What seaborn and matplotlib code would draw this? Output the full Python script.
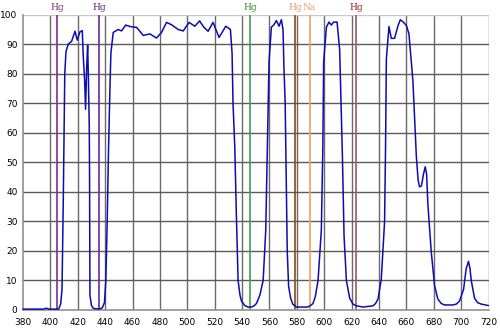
import matplotlib
matplotlib.use("Agg")
import matplotlib.pyplot as plt
import seaborn as sns
import pandas as pd

# Filter transmission curve (wavelength in nm, transmission in %)
wavelength = [
    380, 395, 397, 399, 406, 407.5, 408.5, 409.5, 410.5, 411.4, 413, 415.5, 418,
    419.6, 421.6, 423.3, 424, 425, 425.7, 426.5, 427.2, 427.7, 428.4, 428.6, 428.9,
    430, 431.5, 436, 438, 439.5, 440.5, 441.5, 442.5, 443.5, 444.2, 445.9, 449.5,
    452, 455, 458, 463, 467.8, 472.7, 477.5, 481.2, 484.8, 488.5, 493.3, 497,
    501.3, 505.5, 509, 512, 515.2, 518.8, 523.2, 528.1, 531.5, 532.7, 533.4,
    534.7, 535.8, 537.1, 538.5, 539.6, 542, 544.4, 547, 549, 550.5, 553, 555.4,
    557.3, 558.3, 559.7, 561.4, 563.1, 565.1, 567, 568.7, 569.9, 570.6, 571.5,
    572.4, 573, 574, 575.5, 577, 579.7, 588, 590, 591.8, 593.5, 595.5, 597.9,
    599, 599.6, 601.6, 603.5, 605.2, 606.9, 609.4, 611.3, 613.3, 614.5, 616.2,
    618.6, 621, 623.5, 628.3, 635.6, 637.5, 639.3, 641.7, 644.1, 644.8, 645.4,
    647.3, 649, 651.4, 653.9, 655.6, 657.5, 660, 661.9, 664.8, 667.3, 668.6,
    669.6, 671, 672.5, 673.8, 674.8, 675.7, 678.2, 680.6, 683, 685.5, 687.9,
    694, 696.5, 698.8, 701.8, 703.7, 705.4, 706.5, 707.4, 709.8, 712, 714.7, 720,
]
transmission = [
    0.3, 0.3, 0.6, 0.3, 0.3, 2, 7, 40, 80, 87.5, 90, 91, 94.4,
    91.4, 94.2, 94.6, 86, 78, 68, 82, 89.7, 80, 62, 47, 5,
    1.5, 0.5, 0.3, 0.8, 2.5, 10, 30, 55, 75, 87, 94, 95,
    94.5, 96.5, 96, 95.7, 93, 93.5, 92.1, 94, 97.4, 96.6, 95, 94.5,
    97.4, 96.1, 97.9, 95.8, 94.4, 97.4, 92.3, 96.1, 95, 87, 70,
    55, 33, 10, 5, 3, 1.5, 1, 1, 1.5, 2.2, 5, 10,
    27, 50, 84, 95.8, 96.5, 98, 96.1, 98.3, 95, 82, 70,
    40, 20, 8, 4, 2, 1, 1, 1.5, 2.2, 4.5, 10, 27,
    55, 84, 95.8, 97.5, 96.5, 97.5, 97.5, 88, 52, 25, 10,
    4, 2, 1.4, 1, 1.4, 2.2, 3.7, 10.5, 30, 55, 85,
    96, 92, 92, 96.3, 98.3, 97.6, 96.4, 93.5, 77.5, 52, 44,
    41.7, 42, 46, 48.5, 46, 36, 19.6, 8.3, 3.7, 2.2, 1.7,
    1.7, 2, 3, 7, 14, 16.5, 14, 10, 4, 2.5, 2, 1.5,
]

# Reference emission lines
line_nm = [404.7, 435.8, 546.1, 579.0, 589.3, 623.4]
line_names = ["Hg", "Hg", "Hg", "Hg", "Na", "Hg"]
line_colors = ["#8a2a8a", "#6a2a9a", "#4a9a4a", "#8a4a10", "#f0a060", "#a05858"]
label_colors = ["#7a3a7a", "#5a2a8a", "#3a8a3a", "#e0a070", "#e8a060", "#a02020"]

x_ticks = list(range(380, 721, 20))
y_ticks = list(range(0, 101, 10))

df = pd.DataFrame({"wavelength": wavelength, "transmission": transmission})

sns.set_style("white")
fig = plt.figure(figsize=(5.0, 3.32), dpi=100)
ax = fig.add_axes([0.046, 0.0663, 0.931, 0.8894])

# grid
for xv in x_ticks[1:]:
    ax.axvline(xv, color="#6a6a6a", lw=1.0, zorder=1)
for yv in y_ticks[1:-1]:
    ax.axhline(yv, color="#5a5a5a", lw=1.0, zorder=1)
ax.axhline(100, color="#c8c8c8", lw=1.0, zorder=1)

# emission lines and their labels
for nm, name, lc, tc in zip(line_nm, line_names, line_colors, label_colors):
    ax.axvline(nm, color=lc, lw=1.2, zorder=2)
    ax.text(nm, 1.025, name, color=tc, fontsize=6.5, ha="center", va="center",
            transform=ax.get_xaxis_transform(), family="DejaVu Serif")

sns.lineplot(data=df, x="wavelength", y="transmission", ax=ax,
             color="#0c0cb0", lw=1.1, zorder=3, clip_on=False)

ax.set_xlim(380, 720)
ax.set_ylim(0, 100)
ax.set_xticks(x_ticks)
ax.set_yticks(y_ticks)
ax.tick_params(axis="y", length=0, labelsize=6.5, pad=4, colors="black")
ax.tick_params(axis="x", length=0, labelsize=6.5, pad=6, colors="black")
ax.set_xlabel("")
ax.set_ylabel("")

for side in ["top", "right"]:
    ax.spines[side].set_visible(False)
ax.spines["left"].set_color("#909090")
ax.spines["bottom"].set_color("#909090")
ax.spines["left"].set_linewidth(1.2)
ax.spines["bottom"].set_linewidth(1.2)

fig.savefig("out.png", dpi=100)
